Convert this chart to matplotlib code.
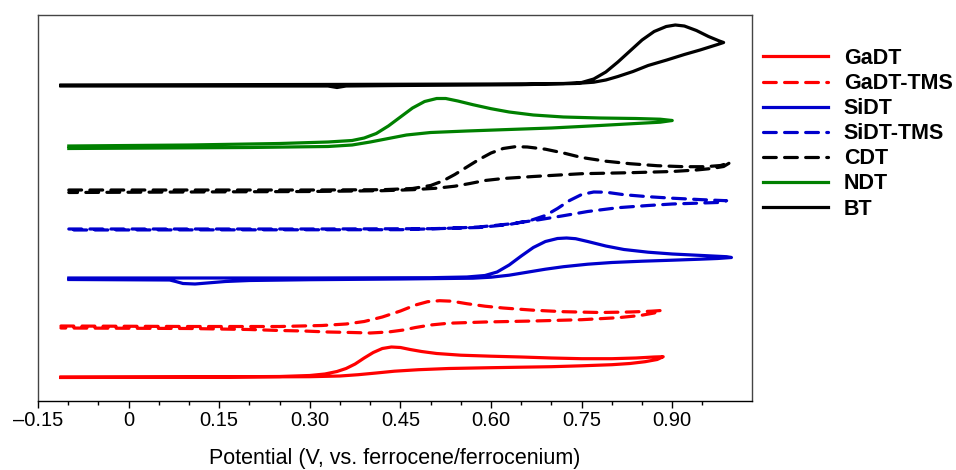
import matplotlib
matplotlib.use("Agg")
import matplotlib.pyplot as plt
import numpy as np

plt.rcParams['font.family'] = ['Liberation Sans', 'DejaVu Sans']

# potentials (V vs Fc/Fc+) and currents (arbitrary units, stacked with offsets)
# each loop: forward (upper) branch to the right, then return (lower) branch
gadt_v = [-0.112, 0.10, 0.25, 0.30, 0.325, 0.345, 0.36, 0.375, 0.39, 0.405, 0.42, 0.435, 0.45, 0.466, 0.485,
          0.51, 0.55, 0.60, 0.65, 0.70, 0.75, 0.80, 0.84, 0.87, 0.885,
          0.875, 0.855, 0.83, 0.80, 0.75, 0.70, 0.60, 0.53, 0.48, 0.44, 0.41, 0.38, 0.35, 0.30, 0.10, -0.112]
gadt_i = [24, 24, 24.5, 25.5, 27, 29.5, 32.5, 37, 43, 48.5, 52.5, 54, 53.5, 51.5, 49.5,
          47.5, 45.8, 44.8, 44, 43, 42.3, 42.3, 43, 44, 44.3,
          41.5, 39.3, 37.5, 36.3, 35.2, 34.3, 33.3, 32.5, 31.3, 29.8, 28, 26.3, 25, 24.3, 23.8, 23.5]

gadt_tms_v = [-0.112, 0.10, 0.25, 0.32, 0.36, 0.39, 0.42, 0.45, 0.475, 0.495, 0.515, 0.535, 0.56, 0.59, 0.62,
              0.67, 0.72, 0.78, 0.83, 0.865, 0.882,
              0.87, 0.847, 0.81, 0.75, 0.67, 0.59, 0.53, 0.50, 0.475, 0.455, 0.43, 0.40, 0.37, 0.33, 0.29,
              0.25, 0.20, 0.10, -0.112]
gadt_tms_i = [75, 74.5, 74.5, 75.5, 77, 79.5, 84, 90, 96, 99.3, 100.3, 99.8, 97.3, 94.8, 93,
              90.8, 89.3, 88.5, 89, 89.8, 90.5,
              88, 85.5, 83.3, 81.3, 80, 79, 77.8, 76, 73.5, 71, 69, 68, 68.5, 69, 70,
              70.5, 71.5, 72.5, 73]

sidt_v = [-0.099, 0.30, 0.50, 0.56, 0.59, 0.61, 0.63, 0.65, 0.67, 0.69, 0.71, 0.725, 0.74, 0.76, 0.79,
          0.82, 0.86, 0.90, 0.95, 0.99, 0.998,
          0.975, 0.946, 0.90, 0.85, 0.80, 0.76, 0.72, 0.69, 0.66, 0.63, 0.60, 0.57, 0.45, 0.30, 0.20,
          0.16, 0.13, 0.11, 0.09, 0.078, 0.068, -0.099]
sidt_i = [123, 123, 123.3, 124, 125.5, 129, 136, 145, 153.5, 159.5, 162.5, 163, 162.3, 159.5, 155,
          151.5, 148.8, 147, 145.5, 144.3, 143.5,
          142.5, 141.8, 140.8, 139.8, 138.5, 136.8, 134.3, 131.8, 128.8, 125.8, 123.8, 122.8, 122, 121.3, 120.5,
          119.5, 118, 117, 117.5, 119.5, 121, 121.5]

sidt_tms_v = [-0.099, 0.30, 0.50, 0.58, 0.63, 0.665, 0.69, 0.71, 0.73, 0.75, 0.77, 0.79, 0.82, 0.86, 0.90,
              0.95, 0.99,
              0.975, 0.94, 0.90, 0.86, 0.81, 0.76, 0.72, 0.68, 0.63, 0.58, 0.52, 0.45, -0.099]
sidt_tms_i = [172, 172, 172.3, 173.5, 176.5, 180.5, 185.5, 192.5, 200.5, 206.5, 209, 208.8, 206.3, 204.3, 202.8,
              201.3, 200.3,
              198.5, 197.8, 197, 195.5, 193.3, 189.5, 185.3, 181.3, 177, 174, 172.5, 171.3, 171]

cdt_v = [-0.099, 0.30, 0.42, 0.47, 0.50, 0.52, 0.54, 0.56, 0.58, 0.60, 0.62, 0.64, 0.66, 0.69, 0.72,
         0.75, 0.79, 0.83, 0.875, 0.92, 0.955, 0.98, 0.996,
         0.985, 0.965, 0.94, 0.90, 0.83, 0.75, 0.67, 0.62, 0.59, 0.565, 0.54, 0.51, 0.47, 0.42, 0.30, -0.099]
cdt_i = [211, 211, 211.3, 212.5, 215.5, 220, 226.5, 234, 241.5, 248, 252.5, 254.3, 254, 251.8, 248,
         243.5, 239.8, 237.3, 235.3, 234.3, 234.3, 235.5, 238.5,
         234.5, 232.5, 231, 229.5, 228.3, 227.3, 224.5, 222.5, 220.5, 217.5, 214.8, 212.8, 211.3, 210.3, 209.5,
         208.5]

ndt_v = [-0.099, 0.10, 0.25, 0.33, 0.37, 0.39, 0.41, 0.43, 0.45, 0.47, 0.49, 0.51, 0.525, 0.545, 0.57,
         0.60, 0.63, 0.67, 0.72, 0.78, 0.84, 0.88, 0.90,
         0.88, 0.84, 0.78, 0.70, 0.62, 0.56, 0.50, 0.46, 0.43, 0.40, 0.37, 0.33, 0.20, -0.099]
ndt_i = [255, 256, 257.5, 259, 260.5, 263, 267.5, 275, 284, 293, 299.5, 302.5, 302.5, 300, 296.3,
         292.3, 289, 286, 284, 283, 282.5, 281.8, 280.5,
         278.8, 277.5, 275.5, 273, 271.3, 270, 268.5, 266, 262.5, 259, 256, 254.5, 253.5, 252.5]

bt_v = [-0.112, 0.30, 0.60, 0.72, 0.75, 0.77, 0.79, 0.81, 0.83, 0.85, 0.87, 0.89, 0.905, 0.92, 0.94,
        0.96, 0.978, 0.985,
        0.975, 0.946, 0.92, 0.891, 0.86, 0.835, 0.81, 0.79, 0.77, 0.74, 0.65, 0.45, 0.36, 0.345, 0.33, -0.112]
bt_i = [316, 316.5, 317, 317.5, 318.5, 322, 329, 339, 350, 361, 369.5, 374.5, 376, 375, 370.5,
        364.5, 360, 358.5,
        356.5, 351, 346.5, 341, 335.5, 329.5, 324.5, 321, 318.8, 317.5, 316.3, 315.5, 315, 313.5, 315, 315]

tick_vals = [-0.15, 0, 0.15, 0.30, 0.45, 0.60, 0.75, 0.90]
tick_labels = ['\u20130.15', '0', '0.15', '0.30', '0.45', '0.60', '0.75', '0.90']

fig = plt.figure(figsize=(9.56, 4.70), dpi=100)
ax = fig.add_axes([38 / 956, 69 / 470, 714 / 956, 386 / 470])

lw = 2.3
dash = (4, 2.6)
ax.plot(gadt_v, gadt_i, color='#ff0000', lw=lw, label='GaDT', solid_joinstyle='round')
ax.plot(gadt_tms_v, gadt_tms_i, color='#ff0000', lw=lw, dashes=dash, dash_capstyle='round', label='GaDT-TMS')
ax.plot(sidt_v, sidt_i, color='#0000cc', lw=lw, label='SiDT', solid_joinstyle='round')
ax.plot(sidt_tms_v, sidt_tms_i, color='#0000cc', lw=lw, dashes=dash, dash_capstyle='round', label='SiDT-TMS')
ax.plot(cdt_v, cdt_i, color='black', lw=lw, dashes=dash, dash_capstyle='round', label='CDT')
ax.plot(ndt_v, ndt_i, color='#008000', lw=lw, label='NDT', solid_joinstyle='round')
ax.plot(bt_v, bt_i, color='black', lw=lw, label='BT', solid_joinstyle='round')

ax.set_xlim(-0.15, 1.032)
ax.set_ylim(0, 386)
ax.set_yticks([])
ax.set_xticks(tick_vals)
ax.set_xticklabels(tick_labels, fontsize=14.5)
ax.set_xticks(np.arange(-0.15, 1.0, 0.05), minor=True)
ax.tick_params(axis='x', which='major', direction='out', length=5, width=1, pad=2)
ax.tick_params(axis='x', which='minor', direction='out', length=3, width=1)
for s in ax.spines.values():
    s.set_color('#444444')
    s.set_linewidth(1)
ax.spines['bottom'].set_color('black')

ax.set_xlabel('Potential (V, vs. ferrocene/ferrocenium)', fontsize=15.5, labelpad=13)

leg = ax.legend(loc='upper left', bbox_to_anchor=(763 / 956, 1 - 48 / 470), bbox_transform=fig.transFigure,
                frameon=False, borderpad=0, borderaxespad=0, handlelength=3.0, handletextpad=0.75,
                labelspacing=0.19, prop={'weight': 'bold', 'size': 15.5})

fig.savefig('out.png', dpi=100)
